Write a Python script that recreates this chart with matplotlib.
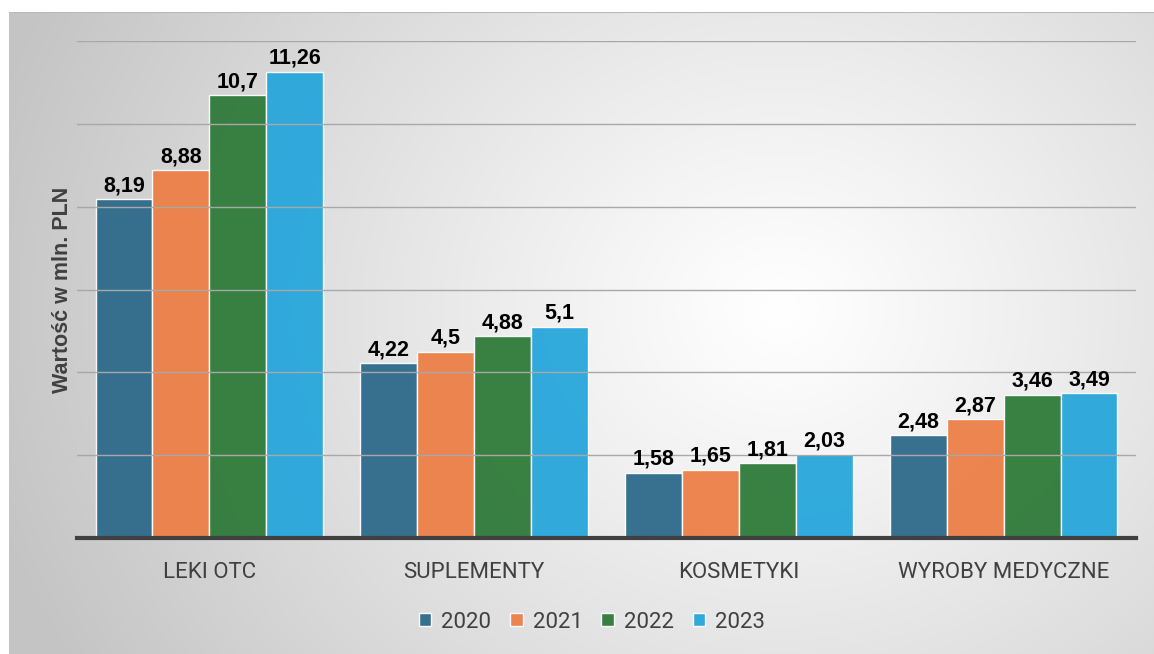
import matplotlib.pyplot as plt
import numpy as np

categories = ['LEKI OTC', 'SUPLEMENTY', 'KOSMETYKI', 'WYROBY MEDYCZNE']
years = ['2020', '2021', '2022', '2023']
v2020 = [8.19, 4.22, 1.58, 2.48]
v2021 = [8.88, 4.5, 1.65, 2.87]
v2022 = [10.7, 4.88, 1.81, 3.46]
v2023 = [11.26, 5.1, 2.03, 3.49]
series = [v2020, v2021, v2022, v2023]
colors = ['#2e6a8b', '#ec7f47', '#2f7a3a', '#27a6db']

W, H = 1154, 654
fig = plt.figure(figsize=(W / 100, H / 100), dpi=100)

# radial gradient background panel
bg = fig.add_axes([9 / W, 0, 1 - 9 / W, 1 - 12 / H])
yy, xx = np.mgrid[12:H, 9:W]
r = np.hypot(xx - 780, (yy - 310) * 1.15)
shade = 1 - 0.23 * np.clip(r / 820, 0, 1) ** 1.1
bg.imshow(np.dstack([shade] * 3), aspect='auto', extent=[0, 1, 0, 1])
bg.axhline(1, color='#b8b8b8', lw=1.5)
bg.set_axis_off()

ax = fig.add_axes([77 / W, (H - 538) / H, (1136 - 77) / W, (538 - 41) / H])
ax.set_facecolor('none')

x = np.arange(len(categories))
bw = 0.215
for i, vals in enumerate(series):
    pos = x + (i - 1.5) * bw
    bars = ax.bar(pos, vals, bw, color=colors[i], alpha=0.95, edgecolor='white',
                  linewidth=1, label=years[i], zorder=2)
    ax.bar_label(bars, labels=[str(v).replace('.', ',') for v in vals], padding=2,
                 fontsize=15.5, fontweight='bold', family='Liberation Sans', color='black')

ax.set_xlim(-0.5, 3.5)
ax.set_ylim(0, 12)
ax.set_yticks(np.arange(2, 13, 2))
ax.yaxis.grid(True, color='#a8a8a8', lw=1, zorder=3)
ax.set_axisbelow(False)
ax.tick_params(axis='y', length=0, labelleft=False)
ax.tick_params(axis='x', length=0, pad=17)
ax.set_xticks(x)
ax.set_xticklabels(categories, fontsize=16, family='Roboto', color='#404040')
for s in ['top', 'right', 'left']:
    ax.spines[s].set_visible(False)
ax.spines['bottom'].set_color('#404040')
ax.spines['bottom'].set_linewidth(3)
ax.spines['bottom'].set_zorder(4)

ax.set_ylabel('Wartość w mln. PLN', fontsize=15.5, fontweight='bold',
              family='Liberation Sans', color='#404040', labelpad=3)

leg = fig.legend(loc='center', bbox_to_anchor=(0.513, 1 - 622 / H), ncol=4, frameon=False,
                 handlelength=0.55, handleheight=0.55, handletextpad=0.45, columnspacing=0.85,
                 prop={'family': 'Roboto', 'size': 16})
for t in leg.get_texts():
    t.set_color('#404040')

fig.savefig('out.png', dpi=100)
